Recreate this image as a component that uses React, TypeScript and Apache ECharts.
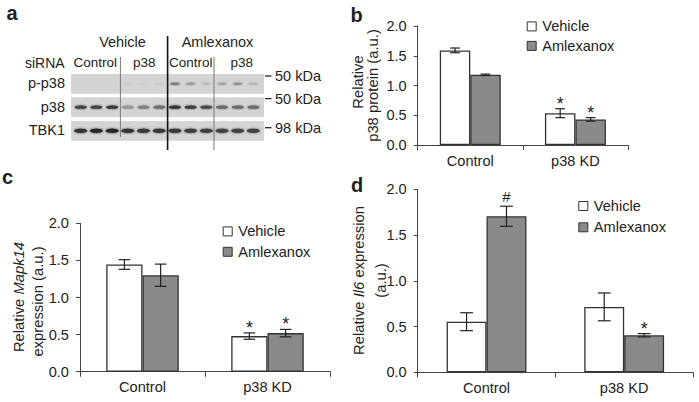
import { useEffect, useRef } from "react";
import * as echarts from "echarts";

const FONT = "'Liberation Sans', Arial, Helvetica, sans-serif";
const FS = 14.6;

// ---------- data ----------
const groups = ["Control", "p38 KD"];
const seriesNames = ["Vehicle", "Amlexanox"];

// panel b: relative p38 protein
const bVehicle = [1.59, 0.535];
const bVehicleErr = [0.04, 0.075];
const bAmlex = [1.18, 0.43];
const bAmlexErr = [0.012, 0.03];
const bVehicleMark = ["", "*"];
const bAmlexMark = ["", "*"];

// panel c: relative Mapk14 expression
const cVehicle = [1.445, 0.48];
const cVehicleErr = [0.065, 0.043];
const cAmlex = [1.3, 0.52];
const cAmlexErr = [0.15, 0.05];
const cVehicleMark = ["", "*"];
const cAmlexMark = ["", "*"];

// panel d: relative Il6 expression
const dVehicle = [0.553, 0.715];
const dVehicleErr = [0.098, 0.152];
const dAmlex = [1.705, 0.405];
const dAmlexErr = [0.11, 0.018];
const dVehicleMark = ["", ""];
const dAmlexMark = ["#", "*"];

const yTickLabels = ["0.0", "0.5", "1.0", "1.5", "2.0"];

// panel a: western blot (relative band intensity per lane, 12 lanes)
const treatments = ["Vehicle", "Amlexanox"];
const sirnaLabels = ["Control", "p38", "Control", "p38"];
const blotRows = ["p-p38", "p38", "TBK1"];
const markerLabels = ["50 kDa", "50 kDa", "98 kDa"];
const pp38Bands = [0, 0, 0, 0.03, 0.04, 0.05, 0.55, 0.35, 0.15, 0.28, 0.4, 0.18];
const p38Bands = [0.85, 0.85, 0.9, 0.35, 0.5, 0.6, 0.92, 0.88, 0.8, 0.62, 0.6, 0.6];
const tbk1Bands = [0.95, 1, 1, 0.95, 0.9, 0.9, 0.9, 0.88, 0.88, 0.85, 0.85, 0.85];

// ---------- layout ----------
const BAR_FRAC = 0.29;
const grids = [
  { left: 417.7, top: 26, width: 210.3, height: 119 },
  { left: 80, top: 223.3, width: 250, height: 148.4 },
  { left: 417.7, top: 189.3, width: 275.3, height: 183 },
];
const legendPos = [
  { left: 526.7, top: 18.9, gap: 4.5 },
  { left: 222.7, top: 223.9, gap: 5.4 },
  { left: 578.3, top: 198.5, gap: 6.3 },
];

function greyFor(intensity: number) {
  const g = Math.round(211 - intensity * (211 - 40));
  return `rgb(${g},${g},${g})`;
}

function errSeries(gi: number, vals: number[], errs: number[], marks: string[], side: number) {
  return {
    type: "custom",
    xAxisIndex: gi,
    yAxisIndex: gi,
    z: 10,
    silent: true,
    data: vals.map((v, k) => [k, v, errs[k]]),
    renderItem: (params: any, api: any) => {
      const k = api.value(0);
      const v = api.value(1);
      const e = api.value(2);
      const catW = api.size([1, 0])[0];
      const bw = catW * BAR_FRAC;
      const cx = api.coord([k, v])[0] + (side ? bw / 2 : -bw / 2);
      const yt = api.coord([k, v + e])[1];
      const yb = api.coord([k, v - e])[1];
      const hw = bw * 0.16;
      const st = { stroke: "#222", lineWidth: 1.2 };
      const children: any[] = [
        { type: "line", shape: { x1: cx, y1: yt, x2: cx, y2: yb }, style: st },
        { type: "line", shape: { x1: cx - hw, y1: yt, x2: cx + hw, y2: yt }, style: st },
        { type: "line", shape: { x1: cx - hw, y1: yb, x2: cx + hw, y2: yb }, style: st },
      ];
      const m = marks[params.dataIndex];
      if (m) {
        const isStar = m === "*";
        children.push({
          type: "text",
          x: cx,
          y: isStar ? yt - 5 : yt - 10,
          style: {
            text: m,
            textAlign: "center",
            textVerticalAlign: "middle",
            fontSize: isStar ? 18 : 15,
            fontFamily: FONT,
            fill: "#222",
          },
        });
      }
      return { type: "group", children };
    },
  };
}

function barSeries(gi: number, name: string, vals: number[], fill: string) {
  return {
    type: "bar",
    name,
    xAxisIndex: gi,
    yAxisIndex: gi,
    data: vals,
    barWidth: BAR_FRAC * 100 + "%",
    barGap: "0%",
    itemStyle: { color: fill, borderColor: "#333", borderWidth: 1.3 },
  };
}

function txt(text: string, x: number, y: number, opts: any = {}) {
  return {
    type: "text",
    x,
    y,
    rotation: opts.rotation || 0,
    style: {
      text,
      fontSize: opts.fontSize || FS,
      fontWeight: opts.bold ? "bold" : "normal",
      fontFamily: FONT,
      fill: opts.fill || "#222",
      textAlign: opts.align || "center",
      textVerticalAlign: "middle",
      rich: opts.rich,
    },
  };
}

function buildGraphic() {
  const g: any[] = [];
  // panel letters
  g.push(txt("a", 12, 13, { bold: true, fontSize: 20 }));
  g.push(txt("b", 356.7, 15, { bold: true, fontSize: 20 }));
  g.push(txt("c", 7.5, 176.5, { bold: true, fontSize: 20 }));
  g.push(txt("d", 357, 184.5, { bold: true, fontSize: 20 }));

  // y-axis names
  const NF = 14.8;
  const ital = { i: { fontStyle: "italic", fontSize: NF, fontFamily: FONT, fill: "#222" } };
  const R = Math.PI / 2;
  g.push(txt("Relative", 357.5, 82, { rotation: R, fontSize: NF }));
  g.push(txt("p38 protein (a.u.)", 372.5, 85.5, { rotation: R, fontSize: NF }));
  g.push(txt("Relative {i|Mapk14}", 19, 297, { rotation: R, rich: ital, fontSize: NF }));
  g.push(txt("expression (a.u.)", 38, 301.5, { rotation: R, fontSize: NF }));
  g.push(txt("Relative {i|Il6} expression", 358.5, 280.5, { rotation: R, rich: ital, fontSize: NF }));
  g.push(txt("(a.u.)", 380.5, 280.5, { rotation: R, fontSize: NF }));

  // ----- western blot -----
  const LANE0 = 80.7;
  const STEP = 15.7;
  const BL = 71;
  const BW = 193;
  const rowTop = [74, 97.3, 121];
  const ROWH = 19.7;
  const bandRows = [
    { bands: pp38Bands, rx: 5, ry: 1.1 },
    { bands: p38Bands, rx: 6, ry: 1.7 },
    { bands: tbk1Bands, rx: 6.5, ry: 2.1 },
  ];
  rowTop.forEach((t, r) => {
    g.push({ type: "rect", shape: { x: BL, y: t, width: BW, height: ROWH }, style: { fill: "#d4d4d4" } });
    const row = bandRows[r];
    row.bands.forEach((b, lane) => {
      if (b <= 0) return;
      const c = greyFor(b);
      g.push({
        type: "ellipse",
        shape: { cx: LANE0 + lane * STEP, cy: t + ROWH / 2, rx: row.rx, ry: row.ry },
        style: { fill: c, shadowBlur: 2, shadowColor: c },
      });
    });
    g.push(txt(blotRows[r], 65, t + ROWH / 2 - 0.5, { align: "right", fontSize: 14.5 }));
  });
  // kDa markers
  const markerY = [76, 98.6, 127.7];
  markerY.forEach((y, i) => {
    g.push({ type: "line", shape: { x1: 265, y1: y, x2: 271.5, y2: y }, style: { stroke: "#222", lineWidth: 1.3 } });
    g.push(txt(markerLabels[i], 275, y, { align: "left", fontSize: 14.5 }));
  });
  // divider lines
  g.push({ type: "line", shape: { x1: 120.4, y1: 57, x2: 120.4, y2: 137 }, style: { stroke: "#777", lineWidth: 1 } });
  g.push({ type: "line", shape: { x1: 214, y1: 57, x2: 214, y2: 150 }, style: { stroke: "#777", lineWidth: 1 } });
  g.push({ type: "line", shape: { x1: 167.6, y1: 36, x2: 167.6, y2: 150 }, style: { stroke: "#111", lineWidth: 1.6 } });
  // headers
  g.push(txt(treatments[0], 122.5, 41.5, { fontSize: 14.5 }));
  g.push(txt(treatments[1], 217.5, 41.5, { fontSize: 14.5 }));
  g.push(txt("siRNA", 25, 62.5, { align: "left", fontSize: 14 }));
  const sx = [95.3, 144.2, 190.8, 241.7];
  sirnaLabels.forEach((s, i) => g.push(txt(s, sx[i], 62.5, { fontSize: 13.5 })));
  return g;
}

export default function App() {
  const ref = useRef<HTMLDivElement>(null);
  useEffect(() => {
    if (!ref.current) return;
    const chart = echarts.init(ref.current, null, { renderer: "svg" });
    const axisColor = "#444";
    const xAxis = grids.map((_, i) => ({
      gridIndex: i,
      type: "category",
      data: groups,
      axisLine: { show: true, lineStyle: { color: axisColor, width: 1 } },
      axisTick: { show: true, length: 5, alignWithLabel: false, lineStyle: { color: axisColor } },
      axisLabel: { fontSize: FS, color: "#222", fontFamily: FONT, margin: 8 },
      splitLine: { show: false },
    }));
    const yAxis = grids.map((_, i) => ({
      gridIndex: i,
      type: "value",
      min: 0,
      max: 2,
      interval: 0.5,
      axisLine: { show: true, lineStyle: { color: axisColor, width: 1 } },
      axisTick: { show: true, length: 4, lineStyle: { color: axisColor } },
      axisLabel: {
        fontSize: FS,
        color: "#222",
        fontFamily: FONT,
        margin: 11,
        formatter: (v: number) => yTickLabels[Math.round(v / 0.5)] ?? v.toFixed(1),
      },
      splitLine: { show: false },
    }));
    const legend = legendPos.map((p) => ({
      data: seriesNames,
      orient: "vertical",
      left: p.left,
      top: p.top,
      itemGap: p.gap,
      itemWidth: 9,
      itemHeight: 9,
      icon: "rect",
      padding: 0,
      selectedMode: false,
      itemStyle: { borderWidth: 1 },
      textStyle: { fontSize: FS, color: "#222", fontFamily: FONT, padding: [0, 0, 0, 1] },
    }));
    const panels = [
      [bVehicle, bVehicleErr, bVehicleMark, bAmlex, bAmlexErr, bAmlexMark],
      [cVehicle, cVehicleErr, cVehicleMark, cAmlex, cAmlexErr, cAmlexMark],
      [dVehicle, dVehicleErr, dVehicleMark, dAmlex, dAmlexErr, dAmlexMark],
    ] as any[];
    const series: any[] = [];
    panels.forEach((p, i) => {
      series.push(barSeries(i, seriesNames[0], p[0], "#ffffff"));
      series.push(barSeries(i, seriesNames[1], p[3], "#8a8a8a"));
      series.push(errSeries(i, p[0], p[1], p[2], 0));
      series.push(errSeries(i, p[3], p[4], p[5], 1));
    });
    chart.setOption({
      animation: false,
      backgroundColor: "#ffffff",
      textStyle: { fontFamily: FONT },
      grid: grids.map((g) => ({ ...g, containLabel: false })),
      xAxis,
      yAxis,
      legend,
      series,
      graphic: buildGraphic(),
    });
    return () => chart.dispose();
  }, []);
  return (
    <div
      ref={ref}
      style={{ position: "absolute", left: 0, top: 0, width: 699, height: 402, background: "#fff" }}
    />
  );
}
